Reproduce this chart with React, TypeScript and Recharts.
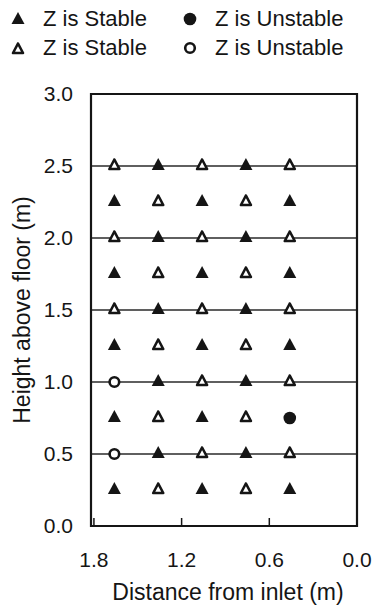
import React from 'react';
import {
  ScatterChart, Scatter, XAxis, YAxis, CartesianGrid, ReferenceArea, Legend,
} from 'recharts';

// Measuring grid: distance from inlet (m) for each column, height (m) for each row
const columns = [1.66, 1.36, 1.06, 0.76, 0.46];
const heights = [2.5, 2.25, 2.0, 1.75, 1.5, 1.25, 1.0, 0.75, 0.5, 0.25];
// one string per height: F = filled triangle, t = open triangle, D = filled circle, c = open circle
const markerRows = [
  'tFtFt',
  'FtFtF',
  'tFtFt',
  'FtFtF',
  'tFtFt',
  'FtFtF',
  'cFtFt',
  'FtFtD',
  'cFtFt',
  'FtFtF',
];
const xTicks = [0, 0.6, 1.2, 1.8];
const yTicks = [0, 0.5, 1.0, 1.5, 2.0, 2.5, 3.0];
// legend reads left-to-right, top-to-bottom
const legendOrder = ['stableFilled', 'unstableFilled', 'stableOpen', 'unstableOpen'];

const pick = (code: string) => {
  const out: { x: number; y: number }[] = [];
  markerRows.forEach((row, r) => {
    row.split('').forEach((c, i) => {
      if (c === code) out.push({ x: columns[i], y: heights[r] });
    });
  });
  return out;
};

const stableFilled = pick('F');
const unstableFilled = pick('D');
const stableOpen = pick('t');
const unstableOpen = pick('c');

const INK = '#151515';
const FONT = '"Liberation Sans", Arial, Helvetica, sans-serif';

const FilledTri = (p: any) => (
  <path d={`M${p.cx},${p.cy - 8}L${p.cx - 6.5},${p.cy + 4}L${p.cx + 6.5},${p.cy + 4}Z`} fill={INK} />
);
const OpenTri = (p: any) => (
  <path
    d={`M${p.cx},${p.cy - 6.5}L${p.cx - 5},${p.cy + 3}L${p.cx + 5},${p.cy + 3}Z`}
    fill="#fff" stroke={INK} strokeWidth={2.6} strokeLinejoin="round"
  />
);
const FilledDot = (p: any) => <circle cx={p.cx} cy={p.cy} r={6.3} fill={INK} />;
const OpenDot = (p: any) => (
  <circle cx={p.cx} cy={p.cy} r={4.8} fill="#fff" stroke={INK} strokeWidth={2.6} />
);

const legendIcons: Record<string, React.ReactNode> = {
  stableFilled: <FilledTri cx={10} cy={11} />,
  unstableFilled: <FilledDot cx={10} cy={10} />,
  stableOpen: <OpenTri cx={10} cy={12} />,
  unstableOpen: <OpenDot cx={10} cy={10} />,
};

const LegendBox = (props: any) => {
  const items = props.payload || [];
  return (
    <div style={{ position: 'relative', width: 375, height: 70 }}>
      {items.map((item: any, k: number) => {
        const key = String(item.dataKey);
        const i = legendOrder.indexOf(key) >= 0 ? legendOrder.indexOf(key) : k;
        return (
          <div
            key={key}
            style={{
              position: 'absolute',
              left: 8 + (i % 2) * 172,
              top: 5 + Math.floor(i / 2) * 29,
              height: 28,
              display: 'flex',
              alignItems: 'center',
              fontFamily: FONT,
              fontSize: 22,
              lineHeight: '28px',
              color: INK,
              whiteSpace: 'nowrap',
            }}
          >
            <svg width={20} height={20} style={{ marginRight: 15 }}>
              {legendIcons[key]}
            </svg>
            <span>{item.value}</span>
          </div>
        );
      })}
    </div>
  );
};

const XTick = (props: any) => {
  const { x, y, payload } = props;
  return (
    <g>
      <line x1={x} x2={x} y1={y - 26} y2={y - 34} stroke={INK} strokeWidth={1.5} />
      <text x={x} y={y} dy={15} textAnchor="middle" fontSize={21} fontFamily={FONT} fill={INK}>
        {Number(payload.value).toFixed(1)}
      </text>
    </g>
  );
};

const YTitle = (props: any) => {
  const vb = props.viewBox || { x: 0, y: 94, width: 91, height: 432 };
  const cy = vb.y + vb.height / 2;
  return (
    <text
      x={22} y={cy} transform={`rotate(-90 22 ${cy})`}
      textAnchor="middle" dominantBaseline="central"
      fontSize={23} fontFamily={FONT} fill={INK}
    >
      Height above floor (m)
    </text>
  );
};

const App: React.FC = () => {
  return (
    <div style={{ position: 'absolute', left: 0, top: 0, width: 375, height: 610, background: '#fff' }}>
      <ScatterChart width={375} height={610} margin={{ top: 94, right: 18, bottom: 0, left: 0 }}>
        <CartesianGrid vertical={false} stroke="#2a2a2a" strokeWidth={1.3} />
        <XAxis
          type="number" dataKey="x" domain={[0, 1.82]} reversed ticks={xTicks}
          height={84} tickSize={0} tickMargin={26} axisLine={false} tickLine={false}
          tick={<XTick />} allowDataOverflow
          label={{
            value: 'Distance from inlet (m)', position: 'insideBottom', offset: 10, dx: 4,
            style: { fontSize: 23, fontFamily: FONT, fill: INK },
          }}
        />
        <YAxis
          type="number" dataKey="y" domain={[0, 3]} ticks={yTicks}
          width={91} tickSize={0} tickMargin={18} axisLine={false} tickLine={false}
          tick={{ fontSize: 21, fontFamily: FONT, fill: INK }}
          tickFormatter={(v: number) => v.toFixed(1)}
          label={<YTitle />}
        />
        <ReferenceArea
          x1={0} x2={1.82} y1={0} y2={3}
          fill="none" fillOpacity={0} stroke={INK} strokeWidth={2.2} ifOverflow="visible"
        />
        <Legend
          layout="vertical" align="center" verticalAlign="middle" width={375}
          wrapperStyle={{ top: 0, left: 0 }}
          content={<LegendBox />}
        />
        <Scatter name="Z is Stable" dataKey="stableFilled" data={stableFilled} shape={FilledTri} isAnimationActive={false} />
        <Scatter name="Z is Unstable" dataKey="unstableFilled" data={unstableFilled} shape={FilledDot} isAnimationActive={false} />
        <Scatter name="Z is Stable" dataKey="stableOpen" data={stableOpen} shape={OpenTri} isAnimationActive={false} />
        <Scatter name="Z is Unstable" dataKey="unstableOpen" data={unstableOpen} shape={OpenDot} isAnimationActive={false} />
      </ScatterChart>
    </div>
  );
};

export default App;
